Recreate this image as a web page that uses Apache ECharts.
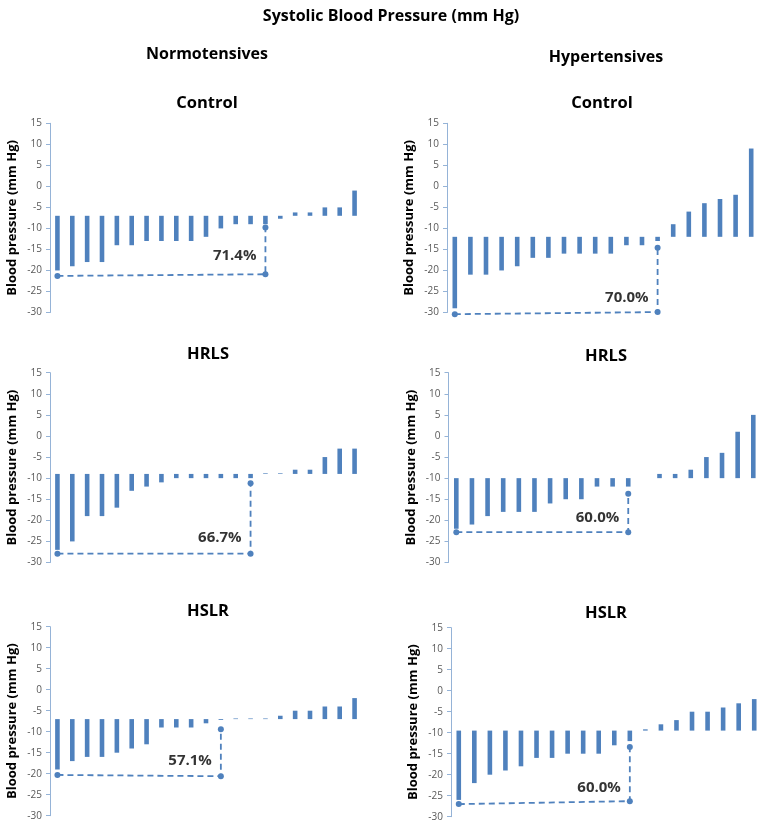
<!DOCTYPE html>
<html>
<head>
<meta charset="utf-8">
<script src="https://cdn.jsdelivr.net/npm/echarts@6/dist/echarts.min.js"></script>
<style>
html,body{margin:0;padding:0;background:#fff;}
#c{width:763px;height:825px;}
</style>
</head>
<body>
<div id="c"></div>
<script>
// ---- Data ----
const yTicks = { min: -30, max: 15, interval: 5 };

// Normotensives – Control
const ncBase = -7;
const ncEnd = [-20,-19,-18,-18,-14,-14,-13,-13,-13,-13,-12,-10,-9,-9,-9,-7.7,-6.2,-6.2,-5,-5,-1];
// Hypertensives – Control
const hcBase = -12;
const hcEnd = [-29,-21,-21,-20,-19,-17,-17,-16,-16,-16,-16,-14,-14,-13,-9,-6,-4,-3,-2,9];
// Normotensives – HRLS
const nrBase = -9;
const nrEnd = [-27,-25,-19,-19,-17,-13,-12,-11,-10,-10,-10,-10,-10,-10,-8.85,-8.85,-8,-8,-5,-3,-3];
// Hypertensives – HRLS
const hrBase = -10;
const hrEnd = [-22,-21,-19,-18,-18,-18,-16,-15,-15,-12,-12,-12,-10,-9,-9,-8,-5,-4,1,5];
// Normotensives – HSLR
const nsBase = -7;
const nsEnd = [-19,-17,-16,-16,-15,-14,-13,-9,-9,-9,-8,-7.2,-6.85,-6.85,-6.85,-6.2,-5,-5,-4,-4,-2];
// Hypertensives – HSLR
const hsBase = -9.5;
const hsEnd = [-26,-22,-20,-19,-18,-16,-16,-15,-15,-15,-13,-12,-9.2,-8,-7,-5,-5,-4,-3,-2];

// Dashed bracket: [left y, right category index, right y, top y]
const ncBracket = [-21.3, 14, -20.9, -9.8];
const hcBracket = [-30.4, 13, -29.9, -14.6];
const nrBracket = [-27.9, 13, -27.9, -11.2];
const hrBracket = [-22.8, 11, -22.8, -13.7];
const nsBracket = [-20.3, 11, -20.6, -9.4];
const hsBracket = [-27.0, 11, -26.3, -13.4];

// Percent labels and their y positions
const pctLabels = ["71.4%", "70.0%", "66.7%", "60.0%", "57.1%", "60.0%"];
const pctY = [-16.5, -26.5, -24.2, -19.5, -16.9, -23.1];

const mainTitle = "Systolic Blood Pressure (mm Hg)";
const groupTitles = ["Normotensives", "Hypertensives"];
const panelTitles = ["Control", "Control", "HRLS", "HRLS", "HSLR", "HSLR"];
const yAxisName = "Blood pressure (mm Hg)";

// ---- Layout ----
const panels = [
  { base: ncBase, end: ncEnd, br: ncBracket, grid: { left: 50, top: 123.3, width: 312, height: 189.2 } },
  { base: hcBase, end: hcEnd, br: hcBracket, grid: { left: 447, top: 123.3, width: 312, height: 189.2 } },
  { base: nrBase, end: nrEnd, br: nrBracket, grid: { left: 50, top: 372.7, width: 312, height: 189.8 } },
  { base: hrBase, end: hrEnd, br: hrBracket, grid: { left: 448.5, top: 372.7, width: 312.6, height: 189.8 } },
  { base: nsBase, end: nsEnd, br: nsBracket, grid: { left: 50, top: 626.7, width: 312, height: 189 } },
  { base: hsBase, end: hsEnd, br: hsBracket, grid: { left: 451, top: 627.7, width: 311, height: 189 } }
];

const FONT = '"Open Sans", "Liberation Sans", sans-serif';
const BAR = '#4F81BD';
const AXIS = '#95B3D7';

const grids = [], xAxes = [], yAxes = [], series = [];
panels.forEach((p, i) => {
  grids.push(Object.assign({ containLabel: false }, p.grid));
  const cats = p.end.map((_, k) => String(k + 1));
  xAxes.push({ type: 'category', gridIndex: i, data: cats, show: false, boundaryGap: true });
  yAxes.push({
    type: 'value', gridIndex: i, min: yTicks.min, max: yTicks.max, interval: yTicks.interval,
    name: yAxisName, nameLocation: 'middle', nameGap: 31,
    nameTextStyle: { fontFamily: FONT, fontWeight: 'bold', fontSize: 13, color: '#000' },
    axisLine: { show: true, lineStyle: { color: AXIS, width: 1 } },
    axisTick: { show: true, length: 4, lineStyle: { color: AXIS } },
    axisLabel: { fontFamily: FONT, fontSize: 10, color: '#595959', margin: 8 },
    splitLine: { show: false }
  });
  const barData = p.end.map((v, k) => [k, p.base, v]);
  series.push({
    type: 'custom', xAxisIndex: i, yAxisIndex: i, data: barData, silent: true,
    renderItem: function (params, api) {
      const x = api.value(0);
      const a = api.coord([x, api.value(1)]);
      const b = api.coord([x, api.value(2)]);
      const w = 4.6;
      const h = Math.abs(b[1] - a[1]);
      return {
        type: 'rect',
        shape: { x: a[0] - w / 2, y: Math.min(a[1], b[1]), width: w, height: h },
        style: { fill: BAR }
      };
    }
  });
  const br = p.br;
  series.push({
    type: 'line', xAxisIndex: i, yAxisIndex: i, silent: true, clip: false,
    data: [[0, br[0]], [br[1], br[2]], [br[1], br[3]]],
    symbol: 'circle', symbolSize: 6,
    itemStyle: { color: BAR },
    lineStyle: { color: BAR, width: 1.8, type: [6, 4] },
    z: 3
  });
  series.push({
    type: 'scatter', xAxisIndex: i, yAxisIndex: i, silent: true, clip: false,
    data: [[br[1], pctY[i]]], symbolSize: 0,
    label: {
      show: true, position: 'left', distance: 9,
      formatter: () => pctLabels[i],
      fontFamily: FONT, fontWeight: 'bold', fontSize: 15, color: '#000'
    }
  });
});

const T = (text, x, y, size, weight) => ({
  type: 'text', x: x, y: y,
  style: { text: text, font: weight + ' ' + size + 'px ' + FONT, fill: '#000', textAlign: 'center', textVerticalAlign: 'middle' }
});

const graphics = [
  T(mainTitle, 391, 16, 16, 'bold'),
  T(groupTitles[0], 207, 54, 16, 'bold'),
  T(groupTitles[1], 606, 57, 16, 'bold'),
  T(panelTitles[0], 207, 103, 16.5, 'bold'),
  T(panelTitles[1], 602, 103, 16.5, 'bold'),
  T(panelTitles[2], 208, 354, 16.5, 'bold'),
  T(panelTitles[3], 606, 356, 16.5, 'bold'),
  T(panelTitles[4], 208, 611, 16.5, 'bold'),
  T(panelTitles[5], 606, 613, 16.5, 'bold')
];

const chart = echarts.init(document.getElementById('c'), null, { renderer: 'canvas' });
chart.setOption({
  backgroundColor: '#fff',
  animation: false,
  grid: grids, xAxis: xAxes, yAxis: yAxes, series: series,
  graphic: graphics
});
</script>
</body>
</html>
